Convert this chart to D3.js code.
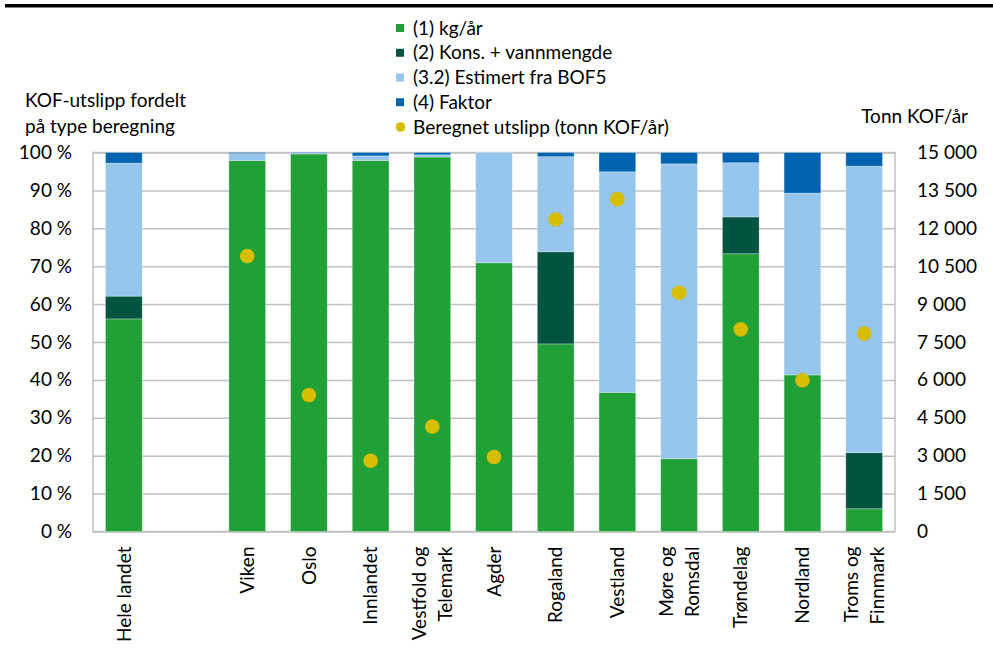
<!DOCTYPE html>
<html>
<head>
<meta charset="utf-8">
<script src="https://cdn.jsdelivr.net/npm/d3@7"></script>
<style>
  body { margin: 0; background: #fff; }
  text { font-family: Lato, "Open Sans", sans-serif; fill: #000; }
</style>
</head>
<body>
<svg id="chart" width="993" height="664"></svg>
<script>
// Regions (an empty slot separates the national total from the counties)
const regions = ["Hele landet", "", "Viken", "Oslo", "Innlandet", "Vestfold og\nTelemark", "Agder",
  "Rogaland", "Vestland", "Møre og\nRomsdal", "Trøndelag", "Nordland", "Troms og\nFinnmark"];

// Share of KOF emissions per calculation type (%)
const kgPerAar        = [56.1, null, 97.9, 99.6, 97.9, 98.8, 70.9, 49.5, 36.7, 19.2, 73.3, 41.3,  6.0];
const konsVannmengde  = [ 6.0, null,  0.0,  0.0,  0.0,  0.0,  0.0, 24.3,  0.0,  0.0,  9.7,  0.0, 14.8];
const estimertBOF5    = [35.1, null,  1.8,  0.2,  1.2,  0.6, 29.1, 25.1, 58.2, 77.8, 14.3, 48.0, 75.6];
const faktor          = [ 2.8, null,  0.3,  0.2,  0.9,  0.6,  0.0,  1.1,  5.1,  3.0,  2.7, 10.7,  3.6];

// Calculated emissions (tonn KOF/år), right axis
const beregnetUtslipp = [null, null, 10900, 5400, 2800, 4150, 2950, 12350, 13150, 9450, 8000, 5980, 7830];

const seriesNames = ["(1) kg/år", "(2) Kons. + vannmengde", "(3.2) Estimert fra BOF5", "(4) Faktor"];
const dotName = "Beregnet utslipp (tonn KOF/år)";

const leftTicks  = [0, 10, 20, 30, 40, 50, 60, 70, 80, 90, 100];
const rightTicks = [0, 1500, 3000, 4500, 6000, 7500, 9000, 10500, 12000, 13500, 15000];

// Styling
const seriesColors = ["#21a038", "#005440", "#96c6eb", "#0063af"];
const dotColor = "#d6bd00";
const gridColor = "#c0c0c0";
const fontSize = 19;

const svg = d3.select("#chart");
const W = 993, H = 664;
const plot = { left: 93, right: 895, top: 152.5, bottom: 531.5 };

// Top rule
svg.append("rect").attr("x", 5).attr("y", 4).attr("width", W - 5).attr("height", 3.5).attr("fill", "#000");

const x = d3.scaleBand()
  .domain(d3.range(regions.length))
  .range([plot.left, plot.right])
  .paddingInner(0.405)
  .paddingOuter(0.2025);

const yL = d3.scaleLinear().domain([0, 100]).range([plot.bottom, plot.top]);
const yR = d3.scaleLinear().domain([0, 15000]).range([plot.bottom, plot.top]);

// Gridlines
const grid = svg.append("g")
  .attr("transform", `translate(${plot.left},0)`)
  .call(d3.axisLeft(yL).tickValues(leftTicks).tickSize(-(plot.right - plot.left)).tickFormat(""));
grid.select(".domain").remove();
grid.selectAll("line").attr("stroke", gridColor).attr("stroke-width", 1.5);

// Plot frame
svg.append("rect")
  .attr("x", plot.left).attr("y", plot.top)
  .attr("width", plot.right - plot.left).attr("height", plot.bottom - plot.top)
  .attr("fill", "none").attr("stroke", gridColor).attr("stroke-width", 1.5);

// Stacked bars
const series = [kgPerAar, konsVannmengde, estimertBOF5, faktor];
const rows = regions.map((r, i) => ({ i, values: series.map(s => s[i]) }));
const stack = d3.stack().keys(d3.range(series.length)).value((d, k) => d.values[k] || 0);
const stacked = stack(rows.filter(d => d.values[0] !== null));

svg.append("g").selectAll("g")
  .data(stacked)
  .join("g")
  .attr("fill", (d, k) => seriesColors[k])
  .selectAll("rect")
  .data(d => d.filter(p => p[1] - p[0] > 0))
  .join("rect")
  .attr("x", p => x(p.data.i))
  .attr("width", x.bandwidth())
  .attr("y", p => yL(p[1]))
  .attr("height", p => yL(p[0]) - yL(p[1]))
  .attr("stroke", "rgba(255,255,255,0.35)")
  .attr("stroke-width", 0.8);

// Calculated emissions dots
svg.append("g").selectAll("circle")
  .data(beregnetUtslipp.map((v, i) => ({ v, i })).filter(d => d.v !== null))
  .join("circle")
  .attr("cx", d => x(d.i) + x.bandwidth() / 2)
  .attr("cy", d => yR(d.v))
  .attr("r", 7.3)
  .attr("fill", dotColor);

// Left axis
const axL = svg.append("g")
  .attr("transform", `translate(${plot.left},0)`)
  .call(d3.axisLeft(yL).tickValues(leftTicks).tickSize(0).tickPadding(21).tickFormat(d => d + " %"));
axL.select(".domain").remove();
axL.selectAll("text").attr("font-size", fontSize).attr("font-family", "Lato, 'Open Sans', sans-serif").attr("fill", "#000");

// Right axis
const axR = svg.append("g")
  .attr("transform", `translate(${plot.right},0)`)
  .call(d3.axisRight(yR).tickValues(rightTicks).tickSize(0).tickPadding(22)
    .tickFormat(d => d3.format(",")(d).replace(/,/g, " ")));
axR.select(".domain").remove();
axR.selectAll("text").attr("font-size", fontSize).attr("font-family", "Lato, 'Open Sans', sans-serif").attr("fill", "#000");

// Category axis with rotated, possibly two-line labels
const axB = svg.append("g")
  .attr("transform", `translate(0,${plot.bottom})`)
  .call(d3.axisBottom(x).tickSize(0).tickFormat(""));
axB.select(".domain").remove();
axB.selectAll(".tick").each(function (i) {
  const lines = regions[i] ? regions[i].split("\n") : [];
  const g = d3.select(this);
  lines.forEach((ln, j) => {
    const off = (j - (lines.length - 1) / 2) * 26;
    g.append("text")
      .attr("transform", `translate(${off},15) rotate(-90)`)
      .attr("text-anchor", "end")
      .attr("dy", "0.35em")
      .attr("font-size", fontSize)
      .attr("fill", "#000")
      .text(ln);
  });
});

// Axis titles
svg.append("text").attr("x", 25).attr("y", 107).attr("font-size", fontSize).text("KOF-utslipp fordelt");
svg.append("text").attr("x", 25).attr("y", 133).attr("font-size", fontSize).text("på type beregning");
svg.append("text").attr("x", 968).attr("y", 123).attr("text-anchor", "end").attr("font-size", fontSize).text("Tonn KOF/år");

// Legend
const legend = svg.append("g");
const legendItems = seriesNames.map((n, k) => ({ n, k, type: "rect" })).concat([{ n: dotName, k: 4, type: "dot" }]);
legendItems.forEach(d => {
  const cy = 28 + d.k * 24.75;
  if (d.type === "rect") {
    legend.append("rect").attr("x", 396).attr("y", cy - 4).attr("width", 8).attr("height", 8)
      .attr("fill", seriesColors[d.k]);
  } else {
    legend.append("circle").attr("cx", 400.5).attr("cy", cy).attr("r", 4.8).attr("fill", dotColor);
  }
  legend.append("text").attr("x", 413).attr("y", cy).attr("dy", "0.35em").attr("font-size", fontSize).text(d.n);
});
</script>
</body>
</html>
